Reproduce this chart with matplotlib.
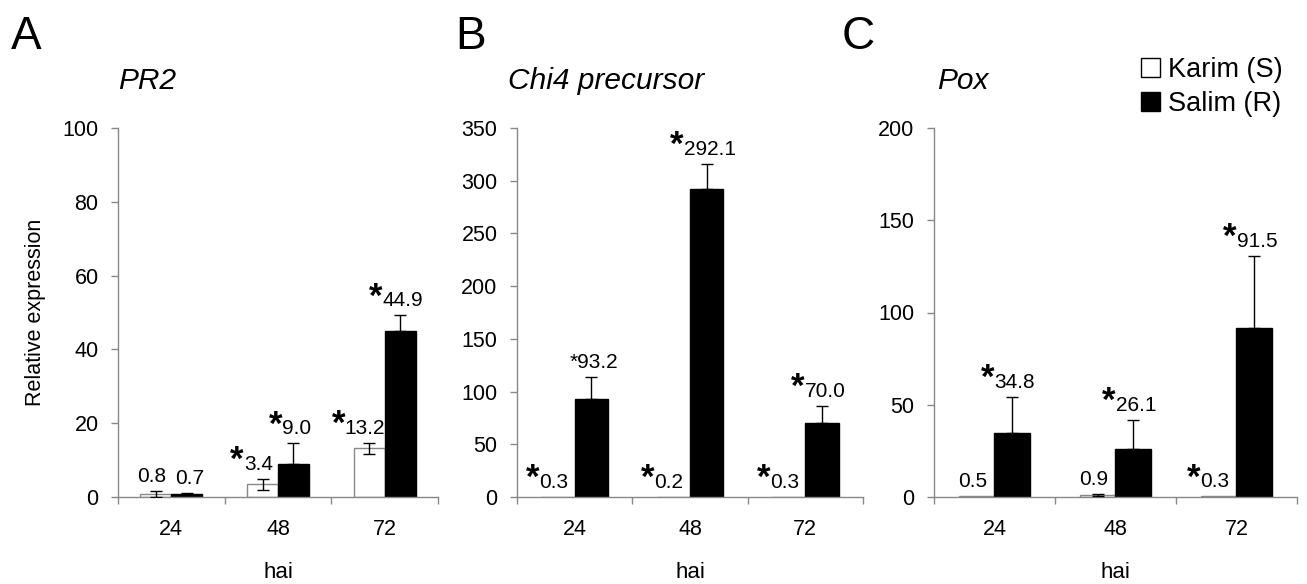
import numpy as np
import matplotlib
matplotlib.use("Agg")
import matplotlib.pyplot as plt
from matplotlib.patches import Patch
from matplotlib.textpath import TextPath
from matplotlib.font_manager import FontProperties

plt.rcParams['font.family'] = ['Liberation Sans', 'DejaVu Sans']

hai = ['24', '48', '72']
cultivars = ['Karim (S)', 'Salim (R)']

# PR2
pr2_karim = [0.8, 3.4, 13.2]
pr2_karim_err = [0.9, 1.4, 1.45]
pr2_karim_sig = ['', 'big', 'big']
pr2_salim = [0.7, 9.0, 44.9]
pr2_salim_err = [0.3, 5.5, 4.3]
pr2_salim_sig = ['', 'big', 'big']

# Chi4 precursor
chi4_karim = [0.3, 0.2, 0.3]
chi4_karim_err = [0, 0, 0]
chi4_karim_sig = ['big', 'big', 'big']
chi4_salim = [93.2, 292.1, 70.0]
chi4_salim_err = [21, 24, 16]
chi4_salim_sig = ['small', 'big', 'big']

# Pox
pox_karim = [0.5, 0.9, 0.3]
pox_karim_err = [0, 0.5, 0]
pox_karim_sig = ['', '', 'big']
pox_salim = [34.8, 26.1, 91.5]
pox_salim_err = [19.6, 15.7, 39.3]
pox_salim_sig = ['big', 'big', 'big']

GREY = '#888888'
LABEL_FS = 15
TICK_FS = 15.5
fp = FontProperties(family='Liberation Sans')

W, H = 1307, 584
fig = plt.figure(figsize=(W / 100, H / 100), dpi=100)


def px_axes(x0, x1, y0=128, y1=497):
    return fig.add_axes([x0 / W, 1 - y1 / H, (x1 - x0) / W, (y1 - y0) / H])


def label_bar(ax, x, top, value, sig, dx):
    txt = '%.1f' % value
    if sig == 'small':
        txt = '*' + txt
    ax.annotate(txt, (x, top), xytext=(dx, 6.5), textcoords='offset points',
                ha='center', va='baseline', fontsize=LABEL_FS)
    if sig == 'big':
        w = TextPath((0, 0), txt, size=LABEL_FS, prop=fp).get_extents().width
        ax.annotate('*', (x, top), xytext=(dx - w / 2 - 0.5, 6.5), textcoords='offset points',
                    ha='right', va='baseline', fontsize=25, fontweight='bold')


def panel(ax, karim, karim_err, karim_sig, salim, salim_err, salim_sig, ymax, ystep, title, title_x):
    x = np.arange(len(hai))
    w = 0.29
    ax.bar(x - w / 2, karim, w, color='white', edgecolor=GREY, linewidth=1.0, zorder=2)
    ax.bar(x + w / 2, salim, w, color='black', edgecolor='black', linewidth=1.0, zorder=2)

    karim = np.array(karim, float)
    karim_err = np.array(karim_err, float)
    m = karim_err > 0
    if m.any():
        ax.errorbar((x - w / 2)[m], karim[m], yerr=karim_err[m], fmt='none', ecolor='black',
                    elinewidth=1.0, capsize=4, capthick=1.0, zorder=3)
    salim = np.array(salim, float)
    salim_err = np.array(salim_err, float)
    ax.errorbar(x + w / 2, salim, yerr=[np.zeros_like(salim_err), salim_err], fmt='none',
                ecolor='black', elinewidth=1.0, capsize=4, capthick=1.0, zorder=3)

    for i in range(len(hai)):
        label_bar(ax, x[i] - w / 2, karim[i] + karim_err[i], karim[i], karim_sig[i], -3)
        label_bar(ax, x[i] + w / 2, salim[i] + salim_err[i], salim[i], salim_sig[i], 2)

    ax.set_xlim(-0.5, len(hai) - 0.5)
    ax.set_ylim(0, ymax)
    ax.set_yticks(np.arange(0, ymax + 1, ystep))
    ax.set_xticks(np.arange(-0.5, len(hai), 1.0))
    ax.set_xticklabels([])
    ax.set_xticks(x, minor=True)
    ax.set_xticklabels(hai, minor=True)
    ax.tick_params(axis='x', which='major', length=5, width=1, color=GREY, direction='out')
    ax.tick_params(axis='x', which='minor', length=0, pad=16, labelsize=TICK_FS)
    ax.tick_params(axis='y', length=5, width=1, color=GREY, direction='out', pad=9, labelsize=TICK_FS)
    for s in ['top', 'right']:
        ax.spines[s].set_visible(False)
    for s in ['left', 'bottom']:
        ax.spines[s].set_color(GREY)
        ax.spines[s].set_linewidth(1.0)
    ax.set_xlabel('hai', fontsize=16, labelpad=16)
    ax.text(title_x, 1.106, title, transform=ax.transAxes, ha='left', va='baseline',
            fontsize=21.5, fontstyle='italic')


axA = px_axes(118, 438)
panel(axA, pr2_karim, pr2_karim_err, pr2_karim_sig, pr2_salim, pr2_salim_err, pr2_salim_sig,
      100, 20, 'PR2', 0.0)
axA.set_ylabel('Relative expression', fontsize=15.5, labelpad=12)

axB = px_axes(517, 863)
panel(axB, chi4_karim, chi4_karim_err, chi4_karim_sig, chi4_salim, chi4_salim_err, chi4_salim_sig,
      350, 50, 'Chi4 precursor', -0.026)

axC = px_axes(934, 1297)
panel(axC, pox_karim, pox_karim_err, pox_karim_sig, pox_salim, pox_salim_err, pox_salim_sig,
      200, 50, 'Pox', 0.008)

for letter, xp in [('A', 11), ('B', 455), ('C', 842)]:
    fig.text(xp / W, 1 - 49 / H, letter, fontsize=33, va='baseline', ha='left')

handles = [Patch(facecolor='white', edgecolor='black', linewidth=1.0),
           Patch(facecolor='black', edgecolor='black', linewidth=1.0)]
fig.legend(handles, cultivars, loc='upper left', bbox_to_anchor=(1141 / W, 1 - 57 / H),
           frameon=False, fontsize=19.5, handlelength=0.7, handleheight=0.7,
           handletextpad=0.3, labelspacing=0.3, borderaxespad=0, borderpad=0)

fig.savefig('out.png', dpi=100)
